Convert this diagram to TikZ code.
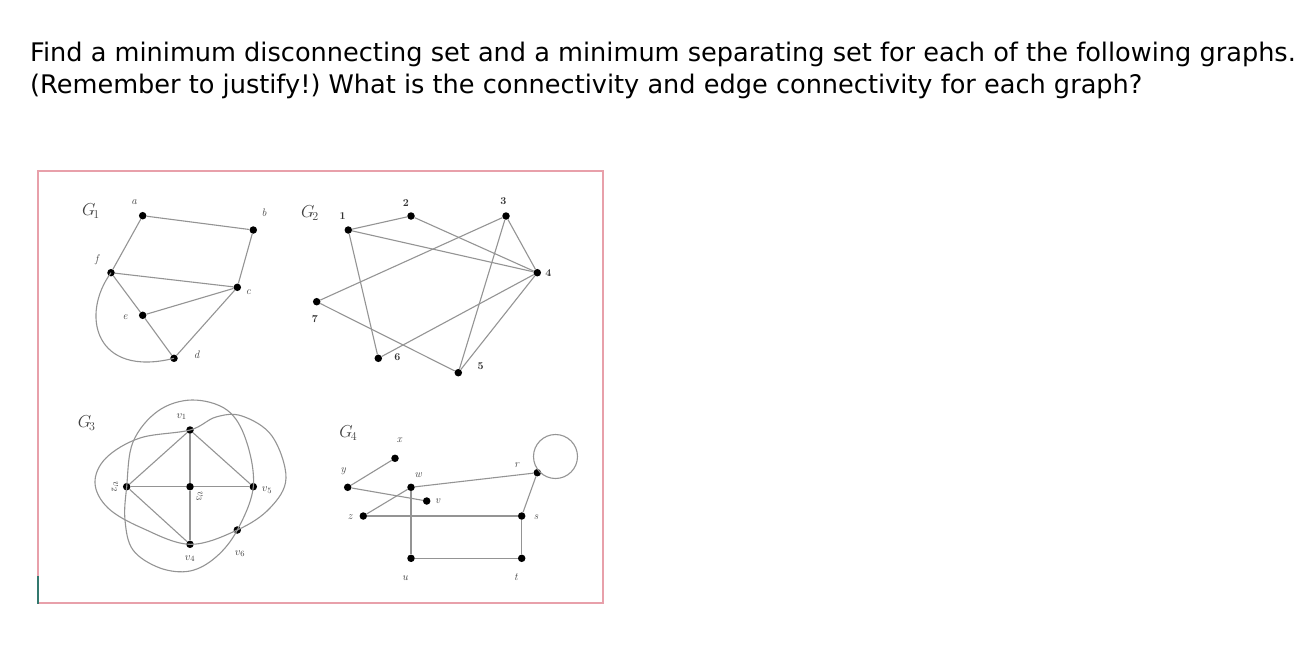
\documentclass[tikz,border=0pt]{standalone}
\usepackage{fontspec}
\newfontfamily\titlefont{DejaVu Sans}
\frenchspacing
\begin{document}
\begin{tikzpicture}[x=1pt,y=-1pt,
  vtx/.style={circle,fill=black,inner sep=0pt,minimum size=7.5pt},
  edge/.style={draw=black!42,line width=1.1pt},
  lbl/.style={font=\fontsize{11}{12}\selectfont\itshape,text=black!75,inner sep=0pt},
  nlbl/.style={font=\fontsize{10.5}{12}\selectfont\bfseries,text=black!80,inner sep=0pt},
  glbl/.style={font=\fontsize{17}{18}\selectfont,text=black!75,inner sep=0pt},
  ttl/.style={font=\titlefont\fontsize{25.6}{28}\selectfont,anchor=base west,inner sep=0pt}]
\useasboundingbox (0,0) rectangle (1309,651);
\fill[white] (0,0) rectangle (1309,651);
% title
\node[ttl] (t1) at (30,61) {Find a minimum disconnecting set and a minimum separating set for each of the following graphs.};
\node[ttl] (t2) at (30,93) {(Remember to justify!) What is the connectivity and edge connectivity for each graph?};
% frame
\draw[line width=1.3pt,color={rgb,255:red,232;green,160;blue,170}] (38,171) rectangle (603,603);
\draw[line width=1.5pt,color={rgb,255:red,50;green,120;blue,110}] (38,576) -- (38,604);
% ---------- G1 ----------
\node[glbl] (g1) at (91,211) {$G_{\!1}$};
\node[vtx] (a) at (142.7,215.7) {};
\node[vtx] (b) at (253.3,230) {};
\node[vtx] (f) at (111,272.7) {};
\node[vtx] (c) at (237.3,287.3) {};
\node[vtx] (e) at (142.7,315.3) {};
\node[vtx] (d) at (174,358.3) {};
\node[lbl] (la) at (134,202) {a};
\node[lbl] (lb) at (264,213) {b};
\node[lbl] (lf) at (96.7,260) {f};
\node[lbl] (lc) at (248.3,291.7) {c};
\node[lbl] (le) at (125,316.7) {e};
\node[lbl] (ld) at (196.7,354.3) {d};
\draw[edge] (a) -- (b);
\draw[edge] (a) -- (f);
\draw[edge] (b) -- (c);
\draw[edge] (f) -- (c);
\draw[edge] (f) -- (e);
\draw[edge] (e) -- (c);
\draw[edge] (e) -- (d);
\draw[edge] (c) -- (d);
\draw[edge] (f.center) .. controls (80,315) and (95,378) .. (d.center);
% ---------- G2 ----------
\node[glbl] (g2) at (310,213.3) {$G_{\!2}$};
\node[vtx] (n1) at (348.3,230) {};
\node[vtx] (n2) at (411,216) {};
\node[vtx] (n3) at (506,216) {};
\node[vtx] (n4) at (537.3,272.7) {};
\node[vtx] (n7) at (316.7,301.7) {};
\node[vtx] (n6) at (378.3,358.3) {};
\node[vtx] (n5) at (458.3,372.7) {};
\node[nlbl] (l1) at (342.7,216) {1};
\node[nlbl] (l2) at (406,202.7) {2};
\node[nlbl] (l3) at (503.3,200.7) {3};
\node[nlbl] (l4) at (548.3,272.7) {4};
\node[nlbl] (l7) at (315,319.3) {7};
\node[nlbl] (l6) at (397.3,357.3) {6};
\node[nlbl] (l5) at (480.7,366) {5};
\draw[edge] (n1) -- (n2);
\draw[edge] (n1) -- (n4);
\draw[edge] (n1) -- (n6);
\draw[edge] (n2) -- (n4);
\draw[edge] (n3) -- (n7);
\draw[edge] (n3) -- (n5);
\draw[edge] (n3) -- (n4);
\draw[edge] (n4) -- (n6);
\draw[edge] (n4) -- (n5);
\draw[edge] (n7) -- (n5);
% ---------- G3 ----------
\node[glbl] (g3) at (86.7,423.3) {$G_{\!3}$};
\node[vtx] (v1) at (190,430) {};
\node[vtx] (v2) at (126.7,486.7) {};
\node[vtx] (v3) at (190,486.7) {};
\node[vtx] (v5) at (253.3,486.7) {};
\node[vtx] (v6) at (237.3,530) {};
\node[vtx] (v4) at (190,544.3) {};
\node[lbl] (lv1) at (181.7,416.5) {$v_1$};
\node[lbl,rotate=-90] (lv2) at (115,487) {$v_2$};
\node[lbl,rotate=-90] (lv3) at (199.5,496.5) {$v_3$};
\node[lbl] (lv5) at (267,490) {$v_5$};
\node[lbl] (lv6) at (240,553.5) {$v_6$};
\node[lbl] (lv4) at (190,558.5) {$v_4$};
\draw[edge] (v1) -- (v2);
\draw[edge] (v1) -- (v3);
\draw[edge] (v1) -- (v5);
\draw[edge] (v2) -- (v3);
\draw[edge] (v3) -- (v5);
\draw[edge] (v2) -- (v4);
\draw[edge] (v3) -- (v4);
\draw[edge] plot[smooth cycle,tension=0.6] coordinates {(v2.center) (133,442) (158,411) (192,400) (227,410) (246,440) (v5.center) (v6.center) (216,557) (190,571) (160,568) (133,550) (125,520)};
\draw[edge] plot[smooth cycle,tension=0.6] coordinates {(v1.center) (140,438) (106,458) (95,483) (108,508) (142,528) (v4.center) (v6.center) (270,508) (286,478) (272,436) (242,416) (216,417)};
% ---------- G4 ----------
\node[glbl] (g4) at (348.3,433.3) {$G_{\!4}$};
\node[vtx] (x) at (395,458.3) {};
\node[vtx] (y) at (347.7,487.3) {};
\node[vtx] (w) at (411,487.3) {};
\node[vtx] (v) at (426.7,501) {};
\node[vtx] (z) at (363.3,516) {};
\node[vtx] (s) at (521.7,516) {};
\node[vtx] (r) at (537.3,472.7) {};
\node[vtx] (u) at (411,558.3) {};
\node[vtx] (t) at (521.7,558.3) {};
\node[lbl] (lx) at (399.3,440) {x};
\node[lbl] (ly) at (343.3,471) {y};
\node[lbl] (lw) at (418.3,475) {w};
\node[lbl] (lv) at (437.5,501) {v};
\node[lbl] (lz) at (350,516.7) {z};
\node[lbl] (ls) at (536,516.7) {s};
\node[lbl] (lr) at (516.7,465) {r};
\node[lbl] (lu) at (405,578.3) {u};
\node[lbl] (lt) at (516,576.7) {t};
\draw[edge] (x) -- (y);
\draw[edge] (y) -- (v);
\draw[edge] (z) -- (w);
\draw[edge] (w) -- (r);
\draw[edge] (w) -- (u);
\draw[edge] (z) -- (s);
\draw[edge] (s) -- (r);
\draw[edge] (s) -- (t);
\draw[edge] (u) -- (t);
\coordinate (rc) at (555.5,456.5);
\draw[edge] (rc) circle[radius=22pt];
\end{tikzpicture}
\end{document}
